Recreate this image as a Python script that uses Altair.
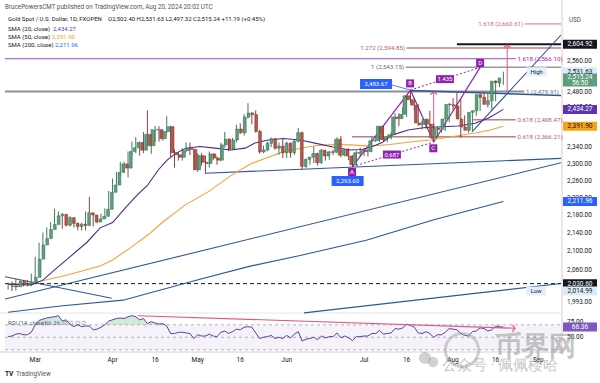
import altair as alt
import pandas as pd

# ---------------- layout ----------------
W, HM, HR = 556, 301, 39
H = HM + HR
XD = [-0.8, 142.9]          # bar-index domain
PD = [1969.5, 2693.9]       # price domain (log)
RD = [26.4, 88.9]           # RSI domain
FONT = "Roboto"

# ---------------- data ----------------
dates = [d.strftime("%Y-%m-%d") for d in pd.bdate_range("2024-02-21", "2024-08-20")
         if d != pd.Timestamp("2024-03-29")]

opens = [2024.5, 2025.5, 2024.0, 2035.5, 2031.0, 2030.5, 2034.0, 2044.0, 2083.0, 2114.0,
         2128.0, 2148.0, 2159.5, 2179.0, 2182.5, 2158.0, 2175.0, 2162.0, 2155.0, 2160.0,
         2157.0, 2186.0, 2181.0, 2165.0, 2172.0, 2178.0, 2194.0, 2233.0, 2250.0, 2280.0,
         2300.0, 2290.0, 2330.0, 2339.0, 2352.0, 2333.0, 2372.0, 2344.0, 2383.0, 2383.5,
         2361.0, 2379.0, 2391.0, 2327.0, 2322.0, 2316.0, 2332.0, 2337.0, 2335.0, 2286.0,
         2320.0, 2304.0, 2301.0, 2324.0, 2314.0, 2309.0, 2346.0, 2360.0, 2336.0, 2358.0,
         2385.0, 2376.0, 2415.0, 2425.0, 2421.0, 2379.0, 2329.0, 2334.0, 2350.0, 2361.0,
         2338.0, 2343.0, 2327.0, 2350.0, 2327.0, 2355.0, 2376.0, 2294.0, 2311.0, 2316.0,
         2325.0, 2303.0, 2333.0, 2319.0, 2329.0, 2328.0, 2360.0, 2321.0, 2334.0, 2319.0,
         2298.0, 2327.0, 2326.0, 2332.0, 2330.0, 2356.0, 2356.5, 2392.0, 2359.0, 2364.0,
         2371.0, 2415.0, 2411.0, 2422.0, 2469.0, 2459.0, 2445.0, 2400.0, 2396.0, 2409.0,
         2397.0, 2364.0, 2387.0, 2384.0, 2410.0, 2447.0, 2446.0, 2443.0, 2410.0, 2390.0,
         2382.0, 2427.0, 2431.0, 2472.0, 2465.0, 2447.0, 2456.0, 2507.0, 2502.40]
highs = [2033, 2035, 2041, 2037.5, 2038, 2038.5, 2052, 2088.5, 2119, 2141.5,
         2153, 2165, 2195, 2189, 2185, 2180, 2178, 2167, 2164, 2163,
         2189, 2222.5, 2183, 2176, 2184, 2196, 2236, 2265.5, 2281, 2305,
         2305, 2330, 2354, 2365, 2354, 2378, 2431.5, 2385, 2393, 2392,
         2384, 2417, 2393, 2335, 2328, 2338, 2352, 2352, 2337, 2326,
         2326, 2320, 2330, 2326, 2318, 2351, 2378, 2362, 2363, 2396,
         2399, 2422, 2450, 2427, 2432, 2383, 2344, 2354, 2364, 2363,
         2352, 2360, 2354, 2352, 2358, 2388, 2379, 2313, 2317, 2342,
         2327, 2336, 2334, 2331, 2334, 2365, 2368, 2335, 2338, 2321,
         2331, 2339, 2338, 2336, 2365, 2364, 2392.5, 2393, 2368, 2377,
         2425, 2424, 2440, 2470, 2483.67, 2464, 2448, 2404, 2412, 2431,
         2399, 2390, 2392, 2413, 2451, 2463, 2477, 2460, 2419, 2400,
         2431, 2436, 2475, 2477, 2474, 2462, 2509, 2510, 2531.63]
lows = [2018, 2014.99, 2016, 2026, 2025, 2024.5, 2025, 2040, 2078, 2107,
        2123, 2142, 2155, 2173, 2150, 2155, 2155, 2153, 2146, 2146,
        2146, 2168, 2155, 2162, 2170, 2174, 2191, 2228, 2242, 2272,
        2279, 2268, 2320, 2326, 2320, 2326, 2342, 2324, 2353, 2354,
        2356, 2374, 2315, 2291, 2308, 2308, 2328, 2321, 2285, 2281,
        2296, 2277, 2291, 2309, 2298, 2306, 2339, 2331, 2333, 2352,
        2373, 2369, 2411, 2397, 2376, 2325, 2326, 2330, 2341, 2334,
        2322, 2314, 2314, 2315, 2322, 2352, 2287, 2290, 2298, 2302,
        2296, 2300, 2308, 2310, 2321, 2326, 2316, 2318, 2309, 2293.6,
        2295, 2318, 2319, 2318, 2328, 2353, 2353, 2354, 2352, 2359,
        2370, 2392, 2410, 2415, 2451, 2432, 2393, 2384, 2385, 2393,
        2353, 2364, 2376, 2380, 2402, 2432, 2411, 2364, 2383, 2376,
        2381, 2418, 2430, 2458, 2439, 2433, 2455, 2492, 2497.32]
closes = [2025.5, 2024.0, 2035.5, 2031.0, 2030.5, 2034.0, 2044.0, 2083.0, 2114.0, 2128.0,
          2148.0, 2159.5, 2179.0, 2182.5, 2158.0, 2175.0, 2162.0, 2155.0, 2160.0, 2157.0,
          2186.0, 2181.0, 2165.0, 2172.0, 2178.0, 2194.0, 2233.0, 2250.0, 2280.0, 2300.0,
          2290.0, 2330.0, 2339.0, 2352.0, 2333.0, 2372.0, 2344.0, 2383.0, 2383.5, 2361.0,
          2379.0, 2391.0, 2327.0, 2322.0, 2316.0, 2332.0, 2337.0, 2335.0, 2286.0, 2320.0,
          2304.0, 2301.0, 2324.0, 2314.0, 2309.0, 2346.0, 2360.0, 2336.0, 2358.0, 2385.0,
          2376.0, 2415.0, 2425.0, 2421.0, 2379.0, 2329.0, 2334.0, 2350.0, 2361.0, 2338.0,
          2343.0, 2327.0, 2350.0, 2327.0, 2355.0, 2376.0, 2294.0, 2311.0, 2316.0, 2325.0,
          2303.0, 2333.0, 2319.0, 2329.0, 2328.0, 2360.0, 2321.0, 2334.0, 2319.0, 2298.0,
          2327.0, 2326.0, 2332.0, 2330.0, 2356.0, 2356.5, 2392.0, 2359.0, 2364.0, 2371.0,
          2415.0, 2411.0, 2422.0, 2469.0, 2459.0, 2445.0, 2400.0, 2396.0, 2409.0, 2397.0,
          2364.0, 2387.0, 2384.0, 2410.0, 2447.0, 2446.0, 2443.0, 2410.0, 2390.0, 2382.0,
          2427.0, 2431.0, 2472.0, 2465.0, 2447.0, 2456.0, 2507.0, 2503.0, 2515.24]
rsi14 = [51, 52, 55, 56, 54, 54, 58, 70, 77, 79,
         81, 82, 83, 84.5, 76, 78, 71, 67, 70, 67,
         68, 68, 62, 63, 66, 70, 76, 78, 80, 81,
         80, 83, 84.6, 83, 78, 80, 72, 75, 73, 71,
         72, 68, 56, 56, 58, 58, 57, 56, 48, 54,
         52, 52, 55, 52, 51, 58, 60, 56, 59, 63,
         62, 66, 67, 66, 57, 48, 50, 51, 53, 48,
         50, 48, 53, 49, 55, 59, 44, 47, 48, 50,
         46, 52, 49, 51, 51, 57, 49, 52, 49, 45,
         51, 51, 52, 52, 56, 56, 61, 55, 56, 57,
         64, 63, 65, 71, 69, 66, 57, 56, 59, 56,
         50, 54, 54, 58, 64, 63, 62, 56, 53, 52,
         59, 60, 65, 64, 60, 62, 68, 67, 66.36]

sma20_i = [0, 6, 9, 12, 15, 20.4, 23.8, 27, 30.3, 33.4, 36, 38.8, 41.1, 43.4, 46, 49.6, 53.5,
           57.4, 61.3, 63.8, 67.2, 71.1, 75.5, 79.9, 84, 88.4, 91.5, 94.1, 96.7, 99.2, 103.4,
           107.8, 112.2, 116.3, 120.7, 124.1, 128]
sma20_v = [2029, 2028, 2038, 2060, 2081, 2120, 2152, 2164, 2197, 2227, 2249, 2285.5, 2309, 2326,
           2338, 2342, 2338, 2333.6, 2338, 2350.6, 2358, 2361.6, 2358, 2349, 2341, 2333.6, 2334.8,
           2342, 2351.8, 2370, 2382.7, 2388.8, 2390.8, 2392.6, 2399.3, 2411.8, 2434.27]
sma50_i = [0, 6, 7.5, 15.3, 23.8, 27, 31.5, 36.7, 40, 45.8, 51.7, 57.4, 62.6, 66.7, 71.1, 75.5,
           79.9, 84, 88.4, 93.6, 98.7, 103.9, 109.1, 114.2, 120.7, 124.6, 128]
sma50_v = [2030, 2031, 2034, 2049, 2068, 2081, 2107, 2140, 2165, 2204, 2234, 2271, 2300, 2314,
           2329, 2338, 2344.5, 2347, 2346, 2343, 2347, 2353, 2358, 2365.3, 2375, 2382.7, 2391.9]
sma200_i = [0, 13.5, 29.7, 49.6, 62.6, 75.5, 92.8, 109.8, 128]
sma200_v = [1971, 1984, 1996, 2040, 2068, 2091, 2125, 2169.6, 2211.96]

tick_i = [7, 27, 38, 49, 60, 72, 92, 103, 115, 126, 137]
tick_t = ["Mar", "Apr", "16", "May", "16", "Jun", "Jul", "16", "Aug", "16", "Sep"]
price_ticks = [2560, 2480, 2440, 2340, 2300, 2260, 2220, 2180, 2140, 2100, 2060, 1993]

# drawings on the chart: (i0, p0, i1, p1, colour, width)
BLUE = "#2f5597"
PUR = "#8e24aa"
PINK = "#e0577f"
FIB = "#c27d78"
solid_segs = [
    (-0.8, 2479.91, 133.4, 2479.91, "#8f8f8f", 2.0),
    (-0.8, 2566.10, 131.2, 2566.10, "#9c4dcc", 1.0),
    (116.0, 2604.92, 142.9, 2604.92, "#131722", 2.0),
    (103.0, 2594.85, 142.9, 2594.85, FIB, 1.5),
    (102.8, 2543.15, 142.9, 2543.15, "#9a9a9a", 1.5),
    (133.5, 2660.61, 142.9, 2660.61, "#d86a9a", 1.0),
    (120.2, 2408.47, 131.2, 2408.47, FIB, 1.5),
    (88.9, 2366.21, 131.2, 2366.21, FIB, 1.5),
    (-0.8, 1998.4, 142.9, 2302.7, BLUE, 1.1),
    (50.93, 2277.7, 142.9, 2313.2, BLUE, 1.1),
    (76.5, 1969.7, 142.9, 2030.8, BLUE, 1.1),
    (119.9, 2377.7, 142.9, 2630.2, BLUE, 1.1),
    (104.0, 2482.6, 142.9, 2469.7, BLUE, 1.5),
    (99.2, 2496.9, 104.0, 2483.67, "#2962ff", 0.8),
    (-0.8, 2045.3, 26.8, 1999.9, BLUE, 1.1),
    (89.0, 2293.6, 104.0, 2483.67, PUR, 1.2),
    (104.0, 2483.67, 110.0, 2353.0, PUR, 1.2),
    (110.0, 2353.0, 122.0, 2543.15, PUR, 1.2),
    (110.0, 2358.0, 110.0, 2478.7, PINK, 1.0),
    (129.0, 2479.7, 129.0, 2603.0, PINK, 1.0),
]
dotted_segs = [
    (89.0, 2293.6, 110.0, 2353.0, PUR, 1.0),
    (104.0, 2483.67, 122.0, 2543.15, PUR, 1.0),
]
dashed_segs = [(-0.8, 2030.60, 142.9, 2030.60, "#131722", 1.0)]


def box_path(w, h):
    s = max(w, h)
    a, b = w / s, h / s
    return f"M{-a:.3f},{-b:.3f}L{a:.3f},{-b:.3f}L{a:.3f},{b:.3f}L{-a:.3f},{b:.3f}Z", s * s


# ---------------- encodings ----------------
def xs(f="i"):
    return alt.X(f"{f}:Q", scale=alt.Scale(domain=XD, nice=False, zero=False), axis=None)


def ys(f="p"):
    return alt.Y(f"{f}:Q", scale=alt.Scale(type="log", domain=PD, range=[HM, 0], nice=False),
                 axis=None)


def yr(f="r"):
    return alt.Y(f"{f}:Q", scale=alt.Scale(domain=RD, range=[H, HM], nice=False, zero=False),
                 axis=None)


def pix_text(rows, align="left", weight="normal", opacity=1.0):
    df = pd.DataFrame(rows, columns=["px", "py", "t", "col", "fs"])
    return alt.Chart(df).mark_text(align=align, baseline="middle", font=FONT,
                                   fontWeight=weight, opacity=opacity).encode(
        x=alt.X("px:Q", scale=None), y=alt.Y("py:Q", scale=None), text="t:N",
        color=alt.Color("col:N", scale=None), size=alt.Size("fs:Q", scale=None))


layers = []

# RSI background band & levels
layers.append(alt.Chart(pd.DataFrame({"a": [70], "b": [30]})).mark_rect(
    color="#7e57c2", opacity=0.08).encode(x=alt.value(0), x2=alt.value(W), y=yr("a"), y2="b:Q"))
layers.append(alt.Chart(pd.DataFrame({"r": [70, 50, 30]})).mark_rule(
    strokeDash=[3, 3], color="#9598a1", strokeWidth=0.7).encode(
    x=alt.value(0), x2=alt.value(W), y=yr("r")))

# panel borders
layers.append(alt.Chart(pd.DataFrame({"a": [0]})).mark_rule(color="#e3c7d2", strokeWidth=1).encode(
    x=alt.value(W + 1), y=alt.value(-12), y2=alt.value(H + 2)))
layers.append(alt.Chart(pd.DataFrame({"a": [0]})).mark_rule(color="#e3c7d2", strokeWidth=1).encode(
    x=alt.value(-5), x2=alt.value(W + 1), y=alt.value(H)))
layers.append(alt.Chart(pd.DataFrame({"a": [0]})).mark_rule(color="#e6e6ea", strokeWidth=1).encode(
    x=alt.value(-5), x2=alt.value(W + 1), y=alt.value(HM)))

# long drawings
seg_cols = ["i0", "p0", "i1", "p1", "col", "w"]
for segs, dash in [(solid_segs, None), (dotted_segs, [2, 2]), (dashed_segs, [4, 3])]:
    kw = {"clip": True}
    if dash:
        kw["strokeDash"] = dash
    layers.append(alt.Chart(pd.DataFrame(segs, columns=seg_cols)).mark_rule(**kw).encode(
        x=xs("i0"), x2="i1:Q", y=ys("p0"), y2="p1:Q",
        color=alt.Color("col:N", scale=None), strokeWidth=alt.StrokeWidth("w:Q", scale=None)))

# moving averages
sdf = pd.concat([
    pd.DataFrame({"i": sma200_i, "v": sma200_v, "s": "200", "col": "#2a55a5"}),
    pd.DataFrame({"i": sma50_i, "v": sma50_v, "s": "50", "col": "#f2a33a"}),
    pd.DataFrame({"i": sma20_i, "v": sma20_v, "s": "20", "col": "#4a2a8e"}),
])
layers.append(alt.Chart(sdf).mark_line(strokeWidth=1.1, clip=True).encode(
    x=xs(), y=ys("v"), detail="s:N", color=alt.Color("col:N", scale=None)))

# candles
n = len(closes)
cdf = pd.DataFrame({"i": list(range(n)), "d": dates, "o": opens, "h": highs, "l": lows, "c": closes})
upm = [c >= o for o, c in zip(opens, closes)]
cdf["fill"] = ["#5e9f7e" if u else "#b4574b" for u in upm]
cdf["edge"] = ["#2f6a4e" if u else "#7c2f26" for u in upm]
layers.append(alt.Chart(cdf).mark_rule(strokeWidth=0.9).encode(
    x=xs(), y=ys("l"), y2="h:Q", color=alt.Color("edge:N", scale=None)))
layers.append(alt.Chart(cdf).mark_bar(size=2.8, strokeWidth=0.5).encode(
    x=xs(), y=ys("o"), y2="c:Q", color=alt.Color("fill:N", scale=None),
    stroke=alt.Stroke("edge:N", scale=None)))

# arrow heads
heads = pd.DataFrame({"i": [110.0, 129.0], "p": [2478.7, 2603.0],
                      "shape": ["M-1,0.7L0,0L1,0.7"] * 2})
layers.append(alt.Chart(heads).mark_point(filled=False, strokeWidth=1.2, size=49, color=PINK,
                                          opacity=1).encode(
    x=xs(), y=ys("p"), shape=alt.Shape("shape:N", scale=None)))

# fib labels
fib_right = pd.DataFrame({
    "i": [133.4, 102.9, 102.6],
    "p": [2660.61, 2594.85, 2543.15],
    "t": ["1.618 (2,660.61)", "1.272 (2,594.85)", "1 (2,543.15)"],
    "col": ["#d0609a", "#b5615f", "#6b6b6b"]})
layers.append(alt.Chart(fib_right).mark_text(align="right", baseline="middle", font=FONT,
                                             fontSize=6.2, dx=-1).encode(
    x=xs(), y=ys("p"), text="t:N", color=alt.Color("col:N", scale=None)))
fib_left = pd.DataFrame({
    "i": [131.4, 133.6, 131.4, 131.4],
    "p": [2566.10, 2479.91, 2408.47, 2366.21],
    "t": ["1.618 (2,566.10)", "1 (2,479.91)", "0.618 (2,408.47)", "0.618 (2,366.21)"],
    "col": ["#9c27b0", "#6b6b6b", "#b5615f", "#b5615f"]})
layers.append(alt.Chart(fib_left).mark_text(align="left", baseline="middle", font=FONT,
                                            fontSize=6.2, dx=1).encode(
    x=xs(), y=ys("p"), text="t:N", color=alt.Color("col:N", scale=None)))

# labelled boxes inside the chart
tags = [  # i, p, w, h, fill, text, text colour
    (95.1, 2499.5, 32, 10, "#2962ff", "2,483.67", "white"),
    (87.75, 2259.5, 32, 10, "#2962ff", "2,293.60", "white"),
    (88.9, 2280.7, 8, 8, PUR, "A", "white"),
    (103.9, 2501.0, 8, 8, PUR, "B", "white"),
    (109.9, 2337.7, 8, 8, PUR, "C", "white"),
    (122.0, 2554.7, 8, 8, PUR, "D", "white"),
    (112.9, 2512.1, 18, 8, PUR, "1.435", "white"),
    (99.2, 2322.6, 18, 8, PUR, "0.687", "white"),
    (136.6, 2531.63, 20, 9, "#e3effd", "High", "#131722"),
    (136.5, 2014.99, 20, 9, "#e3effd", "Low", "#131722"),
]
tdf = pd.DataFrame(tags, columns=["i", "p", "w", "h", "fill", "t", "tc"])
tdf["shape"] = [box_path(w, h)[0] for w, h in zip(tdf.w, tdf.h)]
tdf["size"] = [box_path(w, h)[1] for w, h in zip(tdf.w, tdf.h)]
layers.append(alt.Chart(tdf).mark_point(filled=True, opacity=1, strokeWidth=0).encode(
    x=xs(), y=ys("p"), shape=alt.Shape("shape:N", scale=None), size=alt.Size("size:Q", scale=None),
    color=alt.Color("fill:N", scale=None)))
layers.append(alt.Chart(tdf).mark_text(align="center", baseline="middle", font=FONT,
                                       fontSize=6).encode(
    x=xs(), y=ys("p"), text="t:N", color=alt.Color("tc:N", scale=None)))

# RSI
rdf = pd.DataFrame({"i": list(range(n)), "r": rsi14})
layers.append(alt.Chart(rdf).transform_calculate(top="max(datum.r, 70)", base="70").mark_area(
    color="#66bb6a", opacity=0.3).encode(x=xs(), y=yr("top"), y2="base:Q"))
layers.append(alt.Chart(rdf).mark_line(color="#5b3fa6", strokeWidth=1).encode(x=xs(), y=yr("r")))
rtr = pd.DataFrame({"i0": [33.5], "r0": [84.6], "i1": [131.0], "r1": [64.4]})
layers.append(alt.Chart(rtr).mark_rule(color=PINK, strokeWidth=1.1).encode(
    x=xs("i0"), x2="i1:Q", y=yr("r0"), y2="r1:Q"))
layers.append(alt.Chart(pd.DataFrame({"i": [131.0], "r": [64.4]})).mark_point(
    filled=False, strokeWidth=1.2, size=49, color=PINK, opacity=1,
    shape="M-0.7,-1L0,0L-0.7,1").encode(x=xs(), y=yr("r")))

# x axis labels
xdf = pd.DataFrame({"i": tick_i, "t": tick_t})
layers.append(alt.Chart(xdf).mark_text(baseline="middle", font=FONT, fontSize=6.5,
                                       color="#131722").encode(
    x=xs(), y=alt.value(348), text="t:N"))

# price axis
pdf = pd.DataFrame({"p": price_ticks, "t": [f"{v:,.2f}" for v in price_ticks]})
layers.append(alt.Chart(pdf).mark_text(align="left", baseline="middle", font=FONT, fontSize=6.5,
                                       color="#131722").encode(
    x=alt.value(562), y=ys("p"), text="t:N"))
rax = pd.DataFrame({"r": [75, 50], "t": ["75.00", "50.00"]})
layers.append(alt.Chart(rax).mark_text(align="left", baseline="middle", font=FONT, fontSize=6.5,
                                       color="#131722").encode(
    x=alt.value(562), y=yr("r"), text="t:N"))

axis_tags = [  # price, h, fill, text, text colour
    (2604.92, 9, "#131722", "2,604.92", "white"),
    (2531.63, 9, "#dcebf8", "2,531.63", "#131722"),
    (2509.9, 13, "#5d9e7c", "", "white"),
    (2434.27, 9, "#5e35b1", "2,434.27", "white"),
    (2391.90, 9, "#f7a21b", "2,391.90", "#131722"),
    (2211.96, 9, "#2962ff", "2,211.96", "white"),
    (2030.60, 9, "#131722", "2,030.60", "white"),
    (2014.99, 9, "#dcebf8", "2,014.99", "#131722"),
]
adf = pd.DataFrame(axis_tags, columns=["p", "h", "fill", "t", "tc"])
adf["shape"] = [box_path(34, h)[0] for h in adf.h]
adf["size"] = [box_path(34, h)[1] for h in adf.h]
layers.append(alt.Chart(adf).mark_point(filled=True, opacity=1, strokeWidth=0).encode(
    x=alt.value(575), y=ys("p"), shape=alt.Shape("shape:N", scale=None),
    size=alt.Size("size:Q", scale=None), color=alt.Color("fill:N", scale=None)))
adf2 = pd.concat([adf[["p", "t", "tc"]],
                  pd.DataFrame({"p": [2517.7, 2500.8], "t": ["2,515.24", "56:50"],
                                "tc": ["white", "white"]})])
layers.append(alt.Chart(adf2).mark_text(align="center", baseline="middle", font=FONT,
                                        fontSize=6.5).encode(
    x=alt.value(575), y=ys("p"), text="t:N", color=alt.Color("tc:N", scale=None)))
rbox_path, rbox_size = box_path(34, 9)
layers.append(alt.Chart(pd.DataFrame({"r": [66.36]})).mark_point(
    filled=True, opacity=1, strokeWidth=0, color="#7e57c2", shape=rbox_path,
    size=rbox_size).encode(x=alt.value(575), y=yr("r")))
layers.append(alt.Chart(pd.DataFrame({"r": [66.36], "t": ["66.36"]})).mark_text(
    align="center", baseline="middle", font=FONT, fontSize=6.5, color="white").encode(
    x=alt.value(575), y=yr("r"), text="t:N"))

# header / legend texts (plot pixel coords)
layers.append(pix_text([
    (0, -5.5, "BrucePowersCMT published on TradingView.com, Aug 20, 2024 20:02 UTC", "#50535e", 6.3),
    (3, 7, "Gold Spot / U.S. Dollar, 1D, FXOPEN", "#131722", 6),
    (103, 7, "O2,502.40  H2,531.63  L2,497.32  C2,515.24  +11.19 (+0.45%)", "#131722", 6),
    (3, 16.5, "SMA (20, close)", "#131722", 6),
    (48, 16.5, "2,434.27", "#5e35b1", 6),
    (3, 24.5, "SMA (50, close)", "#131722", 6),
    (47, 24.5, "2,391.90", "#f39c12", 6),
    (3, 32.5, "SMA (200, close)", "#131722", 6),
    (50, 32.5, "2,211.96", "#2962ff", 6),
    (564, 8, "USD", "#50535e", 6.3),
    (3, 311, "RSI (14, close)", "#50535e", 6),
    (40, 311, "66.36", "#7e57c2", 6),
    (57, 311, "\u2205  \u2205  \u2205  \u2205", "#787b86", 5.5),
    (11, 362, "TradingView", "#50535e", 6.3),
]))
layers.append(pix_text([(0, 362, "TV", "#131722", 6.5)], weight="bold"))

# watermark
layers.append(alt.Chart(pd.DataFrame({"a": [0]})).mark_point(
    filled=False, strokeWidth=3, size=1100, color="#9a9a9a", opacity=0.45).encode(
    x=alt.value(457), y=alt.value(338)))
layers.append(alt.Chart(pd.DataFrame({"a": [0]})).mark_point(
    filled=True, size=150, color="#9a9a9a", opacity=0.45).encode(
    x=alt.value(420), y=alt.value(346)))
layers.append(alt.Chart(pd.DataFrame({"a": [0]})).mark_point(
    filled=True, size=110, color="#9a9a9a", opacity=0.45).encode(
    x=alt.value(428), y=alt.value(350)))
layers.append(pix_text([(530, 335, "币界网", "#8f8f8f", 27)], align="center", weight="bold",
                       opacity=0.5))
layers.append(pix_text([(437, 353, "公众号 · 佩佩楼哈", "#8f8f8f", 15)], opacity=0.5))

chart = alt.layer(*layers).resolve_scale(x="independent", y="independent").properties(
    width=W, height=H, autosize=alt.AutoSizeParams(type="none"),
    padding={"left": 5, "top": 12, "right": 39, "bottom": 31}, background="white"
).configure_view(stroke=None)

chart.save("out.html", embed_options={"renderer": "svg", "actions": False})
